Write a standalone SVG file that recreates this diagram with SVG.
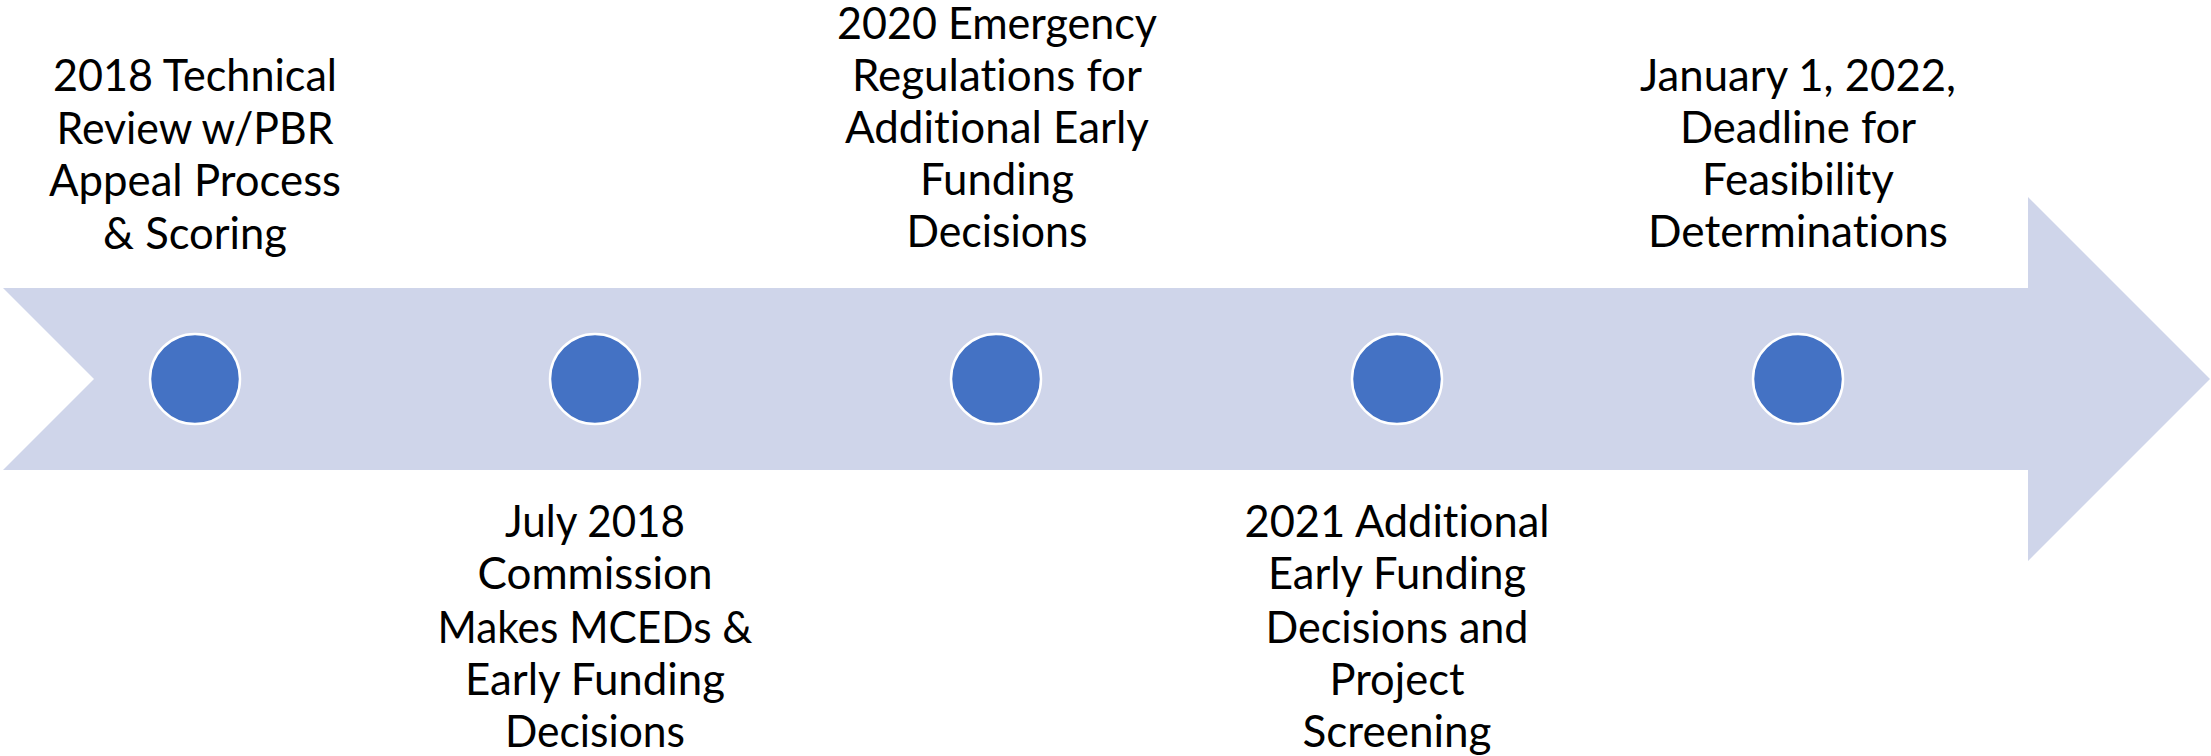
<svg xmlns="http://www.w3.org/2000/svg" width="2211" height="756" viewBox="0 0 2211 756">
<style>
.arrow{fill:#CFD5EA;}
.dot{fill:#4472C4;stroke:#FFFFFF;stroke-width:2.5;}
.lbl{font-family:Lato,"Open Sans","Liberation Sans",sans-serif;font-size:45px;fill:#000000;text-anchor:middle;font-variant-ligatures:none;font-feature-settings:"liga" 0,"dlig" 0;}
</style>
<rect width="2211" height="756" fill="#FFFFFF"/>
<g id="connectors">
<path class="arrow" d="M3,288 L2028,288 L2028,197 L2210,379 L2028,561 L2028,470 L3,470 L94,379 Z"/>
</g>
<g id="node1">
<circle class="dot" cx="195" cy="379" r="45"/>
<text class="lbl" x="195" y="91" textLength="284" lengthAdjust="spacingAndGlyphs">2018 Technical</text>
<text class="lbl" x="195" y="144" textLength="277" lengthAdjust="spacingAndGlyphs">Review w/PBR</text>
<text class="lbl" x="195" y="196" textLength="292" lengthAdjust="spacingAndGlyphs">Appeal Process</text>
<text class="lbl" x="195" y="249" textLength="184" lengthAdjust="spacingAndGlyphs">&amp; Scoring</text>
</g>
<g id="node2">
<circle class="dot" cx="595" cy="379" r="45"/>
<text class="lbl" x="595" y="537" textLength="180" lengthAdjust="spacingAndGlyphs">July 2018</text>
<text class="lbl" x="595" y="589" textLength="235" lengthAdjust="spacingAndGlyphs">Commission</text>
<text class="lbl" x="595" y="643" textLength="315" lengthAdjust="spacingAndGlyphs">Makes MCEDs &amp;</text>
<text class="lbl" x="595" y="695" textLength="260" lengthAdjust="spacingAndGlyphs">Early Funding</text>
<text class="lbl" x="595" y="747" textLength="180" lengthAdjust="spacingAndGlyphs">Decisions</text>
</g>
<g id="node3">
<circle class="dot" cx="996" cy="379" r="45"/>
<text class="lbl" x="997" y="39" textLength="320" lengthAdjust="spacingAndGlyphs">2020 Emergency</text>
<text class="lbl" x="997" y="91" textLength="290" lengthAdjust="spacingAndGlyphs">Regulations for</text>
<text class="lbl" x="997" y="143" textLength="304" lengthAdjust="spacingAndGlyphs">Additional Early</text>
<text class="lbl" x="997" y="195" textLength="154" lengthAdjust="spacingAndGlyphs">Funding</text>
<text class="lbl" x="997" y="247" textLength="181" lengthAdjust="spacingAndGlyphs">Decisions</text>
</g>
<g id="node4">
<circle class="dot" cx="1397" cy="379" r="45"/>
<text class="lbl" x="1397" y="537" textLength="305" lengthAdjust="spacingAndGlyphs">2021 Additional</text>
<text class="lbl" x="1397" y="589" textLength="258" lengthAdjust="spacingAndGlyphs">Early Funding</text>
<text class="lbl" x="1397" y="643" textLength="263" lengthAdjust="spacingAndGlyphs">Decisions and</text>
<text class="lbl" x="1397" y="695" textLength="135" lengthAdjust="spacingAndGlyphs">Project</text>
<text class="lbl" x="1397" y="747" textLength="189" lengthAdjust="spacingAndGlyphs">Screening</text>
</g>
<g id="node5">
<circle class="dot" cx="1798" cy="379" r="45"/>
<text class="lbl" x="1798" y="91" textLength="316" lengthAdjust="spacingAndGlyphs">January 1, 2022,</text>
<text class="lbl" x="1798" y="143" textLength="236" lengthAdjust="spacingAndGlyphs">Deadline for</text>
<text class="lbl" x="1798" y="195" textLength="192" lengthAdjust="spacingAndGlyphs">Feasibility</text>
<text class="lbl" x="1798" y="247" textLength="300" lengthAdjust="spacingAndGlyphs">Determinations</text>
</g>
</svg>
